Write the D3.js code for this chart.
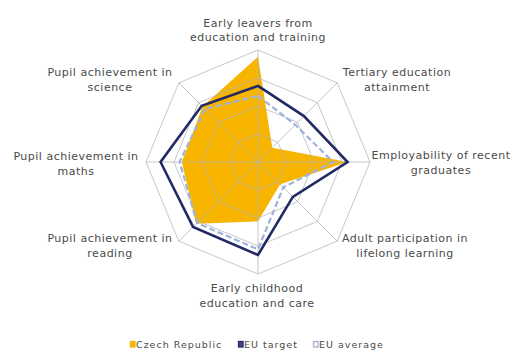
<!DOCTYPE html>
<html>
<head>
<meta charset="utf-8">
<script src="https://cdn.jsdelivr.net/npm/d3@7"></script>
<style>
  html, body { margin: 0; padding: 0; background: #ffffff; }
  svg { display: block; }
  text { font-family: "DejaVu Sans", Verdana, sans-serif; fill: #4a4a4a; }
</style>
</head>
<body>
<svg id="chart" width="518" height="351"></svg>
<script>
// ---- Data ----
const categories = [
  "Early leavers from\neducation and training",
  "Tertiary education\nattainment",
  "Employability of recent\ngraduates",
  "Adult participation in\nlifelong learning",
  "Early childhood\neducation and care",
  "Pupil achievement in\nreading",
  "Pupil achievement in\nmaths",
  "Pupil achievement in\nscience"
];
const seriesNames = ["Czech Republic", "EU target", "EU average"];
const czechRepublic = [94, 18, 80, 28, 53, 78, 68, 70];
const euTarget      = [68, 58, 80, 44, 83, 82, 87, 71];
const euAverage     = [59, 47, 67, 32, 78, 77, 70, 67];
const gridLevels    = [25, 50, 75, 100];

// ---- Layout ----
const cx = 258, cy = 162, R = 112;
const svg = d3.select("#chart");
const r = d3.scaleLinear().domain([0, 100]).range([0, R]);
const angle = d3.scalePoint().domain(d3.range(categories.length)).range([0, 2 * Math.PI * (categories.length - 1) / categories.length]);
const pt = (i, v) => [cx + r(v) * Math.sin(angle(i)), cy - r(v) * Math.cos(angle(i))];
const radial = vals => d3.line()(vals.map((v, i) => pt(i, v))) + "Z";

const g = svg.append("g");

// Czech fill
g.append("path").attr("d", radial(czechRepublic))
  .attr("fill", "#f7b500").attr("stroke", "none");

// grid rings
gridLevels.forEach(l => {
  g.append("path").attr("d", radial(categories.map(() => l)))
    .attr("fill", "none").attr("stroke", "#b4b4b4").attr("stroke-opacity", 0.75).attr("stroke-width", 1);
});
// spokes
categories.forEach((c, i) => {
  const [x, y] = pt(i, 100);
  g.append("line").attr("x1", cx).attr("y1", cy).attr("x2", x).attr("y2", y)
    .attr("stroke", "#b4b4b4").attr("stroke-opacity", 0.75).attr("stroke-width", 1);
});

// EU average dashed
g.append("path").attr("d", radial(euAverage))
  .attr("fill", "none").attr("stroke", "#9db3dc").attr("stroke-width", 2.2)
  .attr("stroke-dasharray", "6,3");
// EU target
g.append("path").attr("d", radial(euTarget))
  .attr("fill", "none").attr("stroke", "#222a66").attr("stroke-width", 2.6)
  .attr("stroke-linejoin", "miter");

// labels
const labelPos = [
  [258, 26.5], [397, 76], [441, 159], [405, 242],
  [257, 292], [110, 242], [76, 160], [110, 76]
];
categories.forEach((c, i) => {
  const t = svg.append("text").attr("text-anchor", "middle")
    .attr("font-size", "11px").attr("letter-spacing", "0.5px");
  c.split("\n").forEach((line, k) => {
    t.append("tspan").attr("x", labelPos[i][0]).attr("y", labelPos[i][1] + k * 14.5).text(line);
  });
});

// legend
const legendItems = [
  { name: seriesNames[0], fill: "#f7b500", stroke: "#f7b500", x: 130 },
  { name: seriesNames[1], fill: "#3a4a8c", stroke: "#222a66", x: 238 },
  { name: seriesNames[2], fill: "#ffffff", stroke: "#9db3dc", x: 313 }
];
const lg = svg.append("g");
legendItems.forEach(d => {
  lg.append("rect").attr("x", d.x + 0.5).attr("y", 341.5).attr("width", 4.5).attr("height", 5.5)
    .attr("fill", d.fill).attr("stroke", d.stroke).attr("stroke-width", 1.3);
  lg.append("text").attr("x", d.x + 6).attr("y", 348)
    .attr("font-size", "9.5px").attr("letter-spacing", "1px").text(d.name);
});
</script>
</body>
</html>
